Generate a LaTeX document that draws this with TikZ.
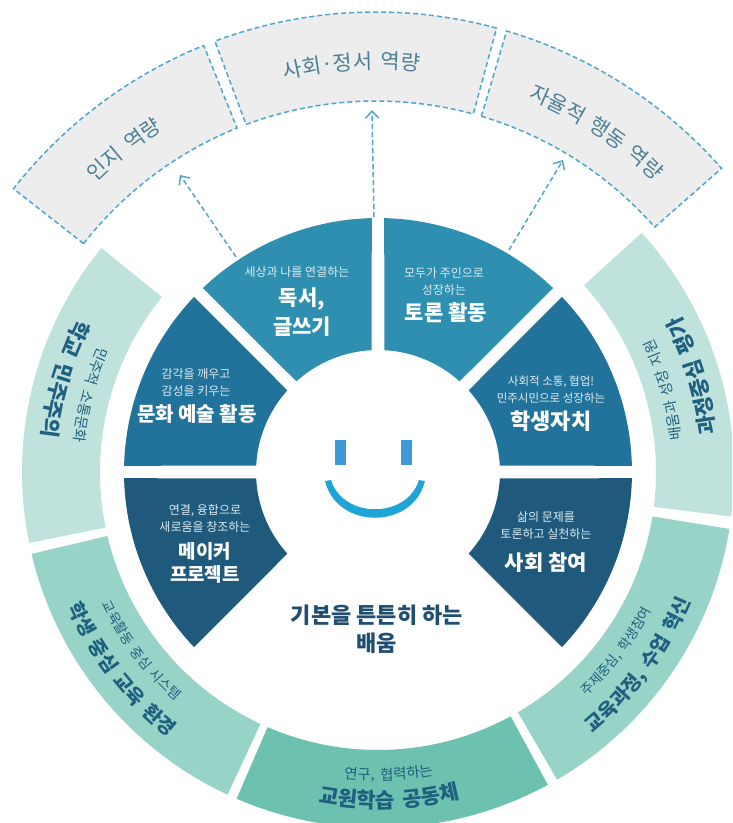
\documentclass[tikz,border=0pt]{standalone}
\usepackage{fontspec}
\setmainfont{Noto Sans CJK KR}
\usetikzlibrary{arrows.meta,decorations.text}

\definecolor{wedgetop}{HTML}{2F8FB0}
\definecolor{wedgemid}{HTML}{22739B}
\definecolor{wedgelow}{HTML}{1F5A7D}
\definecolor{ringpale}{HTML}{BFE3DC}
\definecolor{ringmid}{HTML}{97D3C7}
\definecolor{ringdark}{HTML}{6CC2AF}
\definecolor{bandgray}{HTML}{EDEDED}
\definecolor{dashblue}{HTML}{4FA6CC}
\definecolor{bandink}{HTML}{4D7F95}
\definecolor{ringink}{HTML}{1F5F80}
\definecolor{subtxt}{HTML}{DCEBF1}
\definecolor{centerink}{HTML}{1F4E70}
\definecolor{eyeblue}{HTML}{3D9AD9}
\definecolor{smileblue}{HTML}{1FA4D8}

\newcommand{\wedgepath}[2]{({#1+3}:122) -- ({#1+1.4}:254) arc[start angle={#1+1.4},end angle={#2-1.4},radius=254] -- ({#2-3}:122) arc[start angle={#2-3},end angle={#1+3},radius=122] -- cycle}
\newcommand{\ringpath}[4]{(#1:#3) arc[start angle=#1,end angle=#2,radius=#3] -- (#2:#4) arc[start angle=#2,end angle=#1,radius=#4] -- cycle}
\newcommand{\arclabel}[5]{\path[decorate,decoration={text along path,text align=center,text={|#1|#5}}] (#3:#2) arc[start angle=#3,end angle=#4,radius=#2];}
\newcommand{\ringhead}{\bfseries\fontsize{21}{21}\selectfont\spaceskip=.4em\relax\color{ringink}}
\newcommand{\ringheadlong}{\bfseries\fontsize{19.5}{20}\selectfont\spaceskip=.4em\relax\color{ringink}}
\newcommand{\ringsub}{\fontsize{14.5}{14.5}\selectfont\spaceskip=.4em\relax\color{ringink}}
\newcommand{\ringsublong}{\fontsize{13.5}{14}\selectfont\spaceskip=.4em\relax\color{ringink}}
\newcommand{\bandhead}{\fontsize{21}{21}\selectfont\spaceskip=.4em\relax\color{bandink}}

\begin{document}
\begin{tikzpicture}[x=1pt,y=1pt,
    sub/.style={font=\fontsize{12}{17}\selectfont,text=subtxt,align=center,inner sep=0pt},
    head/.style={font=\bfseries\fontsize{21}{29}\selectfont,text=white,align=center,inner sep=0pt},
    bandcell/.style={fill=bandgray,draw=dashblue,line width=1.5pt,dash pattern=on 5pt off 3pt},
    link/.style={draw=dashblue,line width=1.5pt,dash pattern=on 5pt off 3pt}]
    \useasboundingbox (-378,-351) rectangle (354,472);
    \clip (-378,-351) rectangle (354,472);

    \fill[wedgetop] \wedgepath{90}{135};
    \fill[wedgetop] \wedgepath{45}{90};
    \fill[wedgemid] \wedgepath{135}{180};
    \fill[wedgemid] \wedgepath{0}{45};
    \fill[wedgelow] \wedgepath{180}{225};
    \fill[wedgelow] \wedgepath{315}{360};

    \fill[ringpale] \ringpath{141}{191.5}{278}{356};
    \fill[ringmid] \ringpath{193.3}{245}{278}{356};
    \fill[ringdark] \ringpath{246.6}{298.5}{278}{356};
    \fill[ringmid] \ringpath{300.2}{350.8}{278}{356};
    \fill[ringpale] \ringpath{352.8}{402.2}{278}{356};

    \begin{scope}[shift={(-2,0)}]
        \path[bandcell] \ringpath{142}{112}{371}{460};
        \path[bandcell] \ringpath{110.5}{74.8}{371}{460};
        \path[bandcell] \ringpath{73.5}{41.3}{371}{460};

        \arclabel{\bandhead}{403}{158}{98}{인지 역량}
        \arclabel{\bandhead}{403}{123.5}{63.5}{사회·정서 역량}
        \arclabel{\bandhead}{403}{90}{24}{자율적 행동 역량}
    \end{scope}

    \coordinate (litfoot) at (-142,215);
    \coordinate (littip) at (-198,297);
    \coordinate (socfoot) at (-4,255);
    \coordinate (soctip) at (-6,362);
    \coordinate (selffoot) at (131,222);
    \coordinate (selftip) at (185,312);
    \draw[link,-{Straight Barb[length=7pt,width=13pt]}] (litfoot) to (littip);
    \draw[link,-{Straight Barb[length=7pt,width=13pt]}] (socfoot) to (soctip);
    \draw[link,-{Straight Barb[length=7pt,width=13pt]}] (selffoot) to (selftip);

    \node[sub] (readsub) at (-81,200) {세상과 나를 연결하는};
    \node[head] (read) at (-76,159.5) {독서,\\글쓰기};
    \node[sub] (debatesub) at (66,190.5) {모두가 주인으로\\성장하는};
    \node[head] (debate) at (68,159) {토론 활동};
    \node[sub] (artsub) at (-182,89.5) {감각을 깨우고\\감성을 키우는};
    \node[head,font=\bfseries\fontsize{20}{29}\selectfont] (art) at (-181,58) {문화 예술 활동};
    \node[sub,font=\fontsize{11.5}{17}\selectfont] (selfgovsub) at (173,82) {사회적 소통, 협업!\\민주시민으로 성장하는};
    \node[head,font=\bfseries\fontsize{22}{29}\selectfont] (selfgov) at (173,51) {학생자치};
    \node[sub] (makersub) at (-173,-46) {연결, 융합으로\\새로움을 창조하는};
    \node[head,font=\bfseries\fontsize{19}{23}\selectfont] (maker) at (-173,-90.5) {메이커\\프로젝트};
    \node[sub] (civicsub) at (168,-53.5) {삶의 문제를\\토론하고 실천하는};
    \node[head] (civic) at (168,-91) {사회 참여};

    \node[head,text=centerink,font=\bfseries\fontsize{22}{28}\selectfont] (basics) at (-1,-157) {기본을 튼튼히 하는\\배움};

    \fill[eyeblue] (-43,7) rectangle (-31.5,32);
    \fill[eyeblue] (23,7) rectangle (34,32);
    \fill[smileblue] (-53,-9) .. controls (-41,-58) and (35,-58) .. (47,-9) -- (41,-8) .. controls (29,-47) and (-35,-47) .. (-47,-8) -- cycle;

    \arclabel{\ringhead}{338}{123.5}{203.5}{학교 민주주의}
    \arclabel{\ringsub}{306}{125}{205}{민주적 소통문화}
    \arclabel{\ringheadlong}{338}{177.5}{257.5}{학생 중심 교육 환경}
    \arclabel{\ringsublong}{306}{177}{257}{교육활동 중심 시스템}
    \arclabel{\ringhead}{336}{232}{312}{교원학습 공동체}
    \arclabel{\ringsub}{308}{232}{312}{연구, 협력하는}
    \arclabel{\ringheadlong}{338}{283.5}{363.5}{교육과정, 수업 혁신}
    \arclabel{\ringsublong}{306}{283}{363}{주제중심, 학생참여}
    \arclabel{\ringhead}{340}{337}{417}{과정중심 평가}
    \arclabel{\ringsub}{305}{336}{416}{배움과 성장 지원}
\end{tikzpicture}
\end{document}
